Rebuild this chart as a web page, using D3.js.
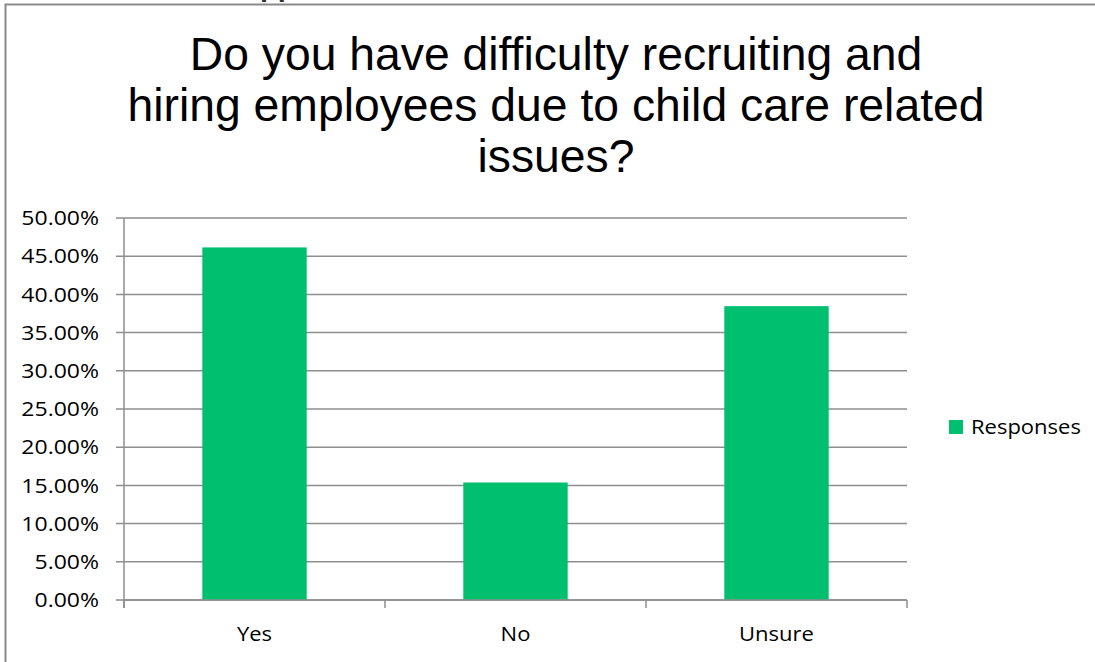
<!DOCTYPE html>
<html>
<head>
<meta charset="utf-8">
<script src="https://cdn.jsdelivr.net/npm/d3@7"></script>
<style>
  html, body { margin: 0; padding: 0; background: #fff; }
  svg { display: block; }
</style>
</head>
<body>
<svg id="chart" width="1095" height="662"></svg>
<script>
// Survey responses (share of respondents)
const categories = ["Yes", "No", "Unsure"];
const responses = [0.4615, 0.1538, 0.3846];
const yTicks = [0, 0.05, 0.10, 0.15, 0.20, 0.25, 0.30, 0.35, 0.40, 0.45, 0.50];
const titleLines = [
  "Do you have difficulty recruiting and",
  "hiring employees due to child care related",
  "issues?"
];
const seriesName = "Responses";

const svg = d3.select("#chart");
const barColor = "#00bf6f";
const gridColor = "#8e8e8e";
const labelFont = "'Open Sans', Lato, sans-serif";
const labelSize = 20;

// Places a label at (x, y) with a horizontal widening of the glyphs
function label(sel, x, y, stretch) {
  return sel.attr("transform", `translate(${x},${y}) scale(${stretch},1)`);
}

// Fragment of the heading above the chart frame
svg.append("text")
  .attr("x", 260).attr("y", -4.5)
  .attr("font-family", "Liberation Sans, Arial, sans-serif")
  .attr("font-weight", "bold")
  .attr("font-size", 29)
  .attr("fill", "#333")
  .text("pp");

// Chart frame (left and top edges)
svg.append("path")
  .attr("d", "M5.5,662 V4.5 H1095")
  .attr("fill", "none")
  .attr("stroke", "#8a8a8a")
  .attr("stroke-width", 2);

// Title
const title = svg.append("text")
  .attr("text-anchor", "middle")
  .attr("font-family", "Liberation Sans, Arial, sans-serif")
  .attr("font-size", 46.3)
  .attr("fill", "#000");
titleLines.forEach((line, i) => {
  title.append("tspan").attr("x", 556).attr("y", 69.5 + i * 51.2).text(line);
});

// Plot area
const plot = { left: 124, right: 907, top: 218, bottom: 600 };

const x = d3.scaleBand()
  .domain(categories)
  .range([plot.left, plot.right])
  .paddingInner(0.6)
  .paddingOuter(0.3);

const xOuter = d3.scaleBand()
  .domain(categories)
  .range([plot.left, plot.right]);

const y = d3.scaleLinear()
  .domain([0, 0.5])
  .range([plot.bottom, plot.top]);

// Horizontal gridlines
svg.append("g")
  .selectAll("line")
  .data(yTicks)
  .join("line")
  .attr("x1", plot.left - 8)
  .attr("x2", plot.right)
  .attr("y1", d => y(d))
  .attr("y2", d => y(d))
  .attr("stroke", gridColor)
  .attr("stroke-width", 1.5);

// Y axis labels
svg.append("g")
  .selectAll("text")
  .data(yTicks)
  .join("text")
  .each(function(d) { label(d3.select(this), 99, y(d), 1.15); })
  .attr("dy", "0.36em")
  .attr("text-anchor", "end")
  .attr("font-family", labelFont)
  .attr("font-size", labelSize)
  .attr("fill", "#000")
  .text(d => d3.format(".2%")(d));

// Bars
svg.append("g")
  .selectAll("rect")
  .data(categories)
  .join("rect")
  .attr("x", d => x(d))
  .attr("width", x.bandwidth())
  .attr("y", (d, i) => y(responses[i]))
  .attr("height", (d, i) => y(0) - y(responses[i]))
  .attr("fill", barColor);

// Y axis line
svg.append("line")
  .attr("x1", plot.left).attr("x2", plot.left)
  .attr("y1", plot.top).attr("y2", plot.bottom + 8)
  .attr("stroke", gridColor).attr("stroke-width", 1.5);

// X axis line and category boundary ticks
svg.append("line")
  .attr("x1", plot.left).attr("x2", plot.right)
  .attr("y1", plot.bottom).attr("y2", plot.bottom)
  .attr("stroke", gridColor).attr("stroke-width", 1.5);

const boundaries = categories.map(c => xOuter(c)).concat([plot.right]);
svg.append("g")
  .selectAll("line")
  .data(boundaries)
  .join("line")
  .attr("x1", d => d).attr("x2", d => d)
  .attr("y1", plot.bottom).attr("y2", plot.bottom + 8)
  .attr("stroke", gridColor).attr("stroke-width", 1.5);

// X axis labels
svg.append("g")
  .selectAll("text")
  .data(categories)
  .join("text")
  .each(function(d) { label(d3.select(this), xOuter(d) + xOuter.bandwidth() / 2, 641, 1.1); })
  .attr("text-anchor", "middle")
  .attr("font-family", labelFont)
  .attr("font-size", labelSize)
  .attr("fill", "#000")
  .text(d => d);

// Legend
const legend = svg.append("g").attr("transform", "translate(949,420)");
legend.append("rect")
  .attr("width", 14).attr("height", 14)
  .attr("fill", barColor);
legend.append("text")
  .each(function() { label(d3.select(this), 22, 7, 1.1); })
  .attr("dy", "0.36em")
  .attr("font-family", labelFont)
  .attr("font-size", labelSize)
  .attr("fill", "#000")
  .text(seriesName);
</script>
</body>
</html>
